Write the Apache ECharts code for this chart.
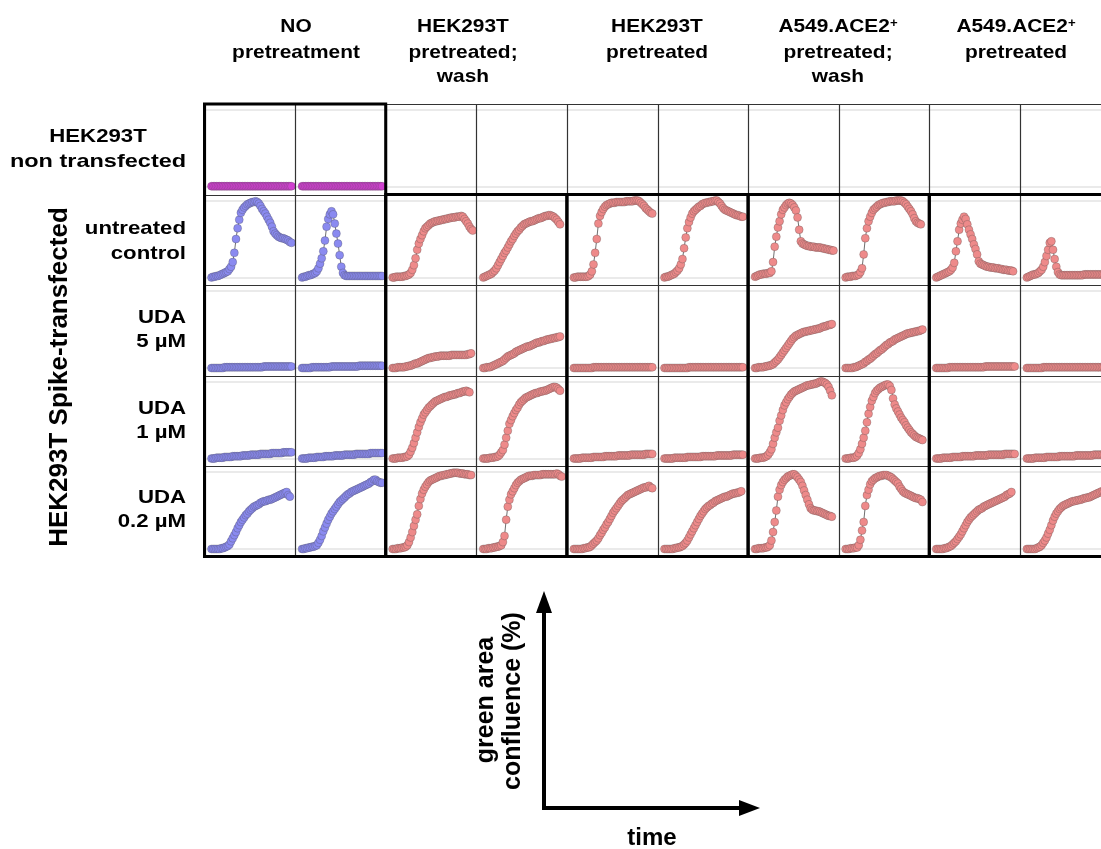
<!DOCTYPE html>
<html><head><meta charset="utf-8">
<script src="https://cdn.jsdelivr.net/npm/echarts@6.0.0/dist/echarts.min.js"></script>
<style>html,body{margin:0;padding:0;background:#fff}#c{width:1101px;height:849px}</style>
</head><body><div id="c"></div>
<script>
// ---- labels ----
const columnHeaders = [
  ['NO', 'pretreatment'],
  ['HEK293T', 'pretreated;', 'wash'],
  ['HEK293T', 'pretreated'],
  ['A549.ACE2{sup|+}', 'pretreated;', 'wash'],
  ['A549.ACE2{sup|+}', 'pretreated']
];
const rowLabels = [
  ['HEK293T', 'non transfected'],
  ['untreated', 'control'],
  ['UDA', '5 µM'],
  ['UDA', '1 µM'],
  ['UDA', '0.2 µM']
];
const sideLabel = 'HEK293T Spike-transfected';
const axisYLabel = ['green area', 'confluence (%)'];
const axisXLabel = 'time';

// ---- series values (green area confluence %, one value per time step) ----
// row 1: HEK293T non transfected
const r1c1 = [1,1,1,1,1,1,1,1,1,1,1,1,1,1,1,1,1,1,1,1,1,1,1,1,1,1,1,1,1,1,1,1,1,1,1,1,1,1,1,1,1,1,1,1,1,1,1,1,1,1];
const r1c2 = [1,1,1,1,1,1,1,1,1,1,1,1,1,1,1,1,1,1,1,1,1,1,1,1,1,1,1,1,1,1,1,1,1,1,1,1,1,1,1,1,1,1,1,1,1,1,1,1,1,1];
// row 2: untreated control
const r2c1 = [0,1,1,2,2,3,4,5,6,7,8,11,14,20,32,50,64,75,84,88,91,93,95,96,97,98,98,99,98,96,93,89,86,83,79,75,71,66,60,57,55,53,52,51,51,50,49,48,46,45];
const r2c2 = [0,1,1,2,3,3,4,5,6,8,12,18,25,34,48,66,76,82,86,82,70,57,44,29,14,6,3,2,2,2,2,2,2,2,2,2,2,2,2,2,2,2,2,2,2,2,2,2,2,2];
const r2c3 = [0,0,1,1,1,1,1,2,2,3,4,6,10,16,25,36,44,50,55,60,64,66,68,70,71,72,73,73,74,74,75,75,76,76,77,77,78,78,78,79,79,79,80,79,76,73,70,66,63,61];
const r2c4 = [0,1,2,3,4,5,7,9,12,16,20,24,28,32,35,39,43,47,50,54,57,60,62,65,67,69,70,71,72,73,73,74,75,76,77,77,78,79,80,80,81,81,80,79,77,75,72,69];
const r2c5 = [0,0,1,1,1,1,1,1,1,2,4,8,17,32,50,70,80,85,89,92,94,95,96,97,97,97,98,98,98,98,98,98,99,99,99,99,99,100,100,100,99,97,95,93,90,88,86,84,83];
const r2c6 = [0,1,1,2,3,4,5,7,9,12,17,24,38,52,64,72,78,83,86,88,90,92,93,95,96,97,97,98,98,99,99,100,100,98,96,93,90,88,87,86,85,84,83,82,81,81,80,79,79];
const r2c7 = [1,2,3,4,4,5,5,5,6,6,8,20,40,53,65,73,82,88,91,94,96,97,96,94,91,87,78,62,47,44,43,42,41,41,40,40,40,39,39,39,39,38,38,37,37,36,36,35,35];
const r2c8 = [0,1,1,1,2,2,2,3,4,7,12,30,51,64,73,79,84,88,90,92,94,95,96,97,97,98,98,99,99,99,99,100,100,100,100,99,97,95,92,89,86,82,77,73,71,70,69];
const r2c9 = [0,1,2,3,4,5,6,7,8,10,13,19,34,47,62,70,75,79,76,69,62,56,50,43,37,30,21,18,17,16,15,14,14,13,13,13,12,12,12,11,11,10,10,10,9,9,9,8];
const r2c10 = [0,1,2,3,4,4,5,6,8,10,14,20,28,36,45,47,36,24,14,7,4,3,3,3,3,3,3,3,3,3,3,3,3,3,3,4,4,4,4,4,4,4,4,4,4,4,4,4,4,4];
// row 3: UDA 5 µM
const r3c1 = [0,0,0,0,0,0,0,0,1,1,1,1,1,1,1,1,1,1,1,1,1,1,1,1,1,1,1,1,1,1,1,1,2,2,2,2,2,2,2,2,2,2,2,2,2,2,2,2,2,2];
const r3c2 = [0,0,0,0,0,0,1,1,1,1,1,1,1,1,1,1,1,1,2,2,2,2,2,2,2,2,2,2,2,2,2,2,2,2,2,3,3,3,3,3,3,3,3,3,3,3,3,3,3,3];
const r3c3 = [0,0,0,1,1,1,1,1,2,2,3,3,4,5,6,6,7,8,9,10,11,12,13,13,14,14,15,15,15,16,16,16,16,16,16,16,17,17,17,17,17,17,17,17,17,17,18,18,19];
const r3c4 = [0,0,1,1,1,2,3,4,5,6,7,8,9,11,13,15,16,17,18,19,21,22,23,24,25,26,27,28,28,29,30,31,32,33,33,34,35,35,36,37,37,38,38,39,39,40,40,41];
const r3c5 = [0,0,0,0,0,0,0,0,0,0,0,0,1,1,1,1,1,1,1,1,1,1,1,1,1,1,1,1,1,1,1,1,1,1,1,1,1,1,1,1,1,1,1,1,1,1,1,1,1];
const r3c6 = [0,0,0,0,0,0,0,0,0,0,0,0,0,0,0,1,1,1,1,1,1,1,1,1,1,1,1,1,1,1,1,1,1,1,1,1,1,1,1,1,1,1,1,1,1,1,1,1,1];
const r3c7 = [0,0,1,1,1,1,2,2,3,3,4,5,7,9,11,14,17,20,23,26,29,32,35,38,40,42,43,44,45,46,47,47,48,48,49,49,50,50,51,51,52,53,54,54,55,56,56,57];
const r3c8 = [0,0,0,0,0,1,1,2,3,4,5,6,8,9,11,12,14,16,18,19,21,23,24,26,28,30,31,33,34,35,37,38,39,40,41,42,43,44,45,45,46,46,47,47,48,48,49,50];
const r3c9 = [0,0,0,0,0,0,0,0,1,1,1,1,1,1,1,1,1,1,1,1,1,1,1,1,1,1,1,1,1,1,2,2,2,2,2,2,2,2,2,2,2,2,2,2,2,2,2,2,2];
const r3c10 = [0,0,0,0,0,0,0,0,0,0,1,1,1,1,1,1,1,1,1,1,1,1,1,1,1,1,1,1,1,1,1,1,1,1,1,1,1,1,1,1,1,1,1,1,1,1,1,1,1,1];
// row 4: UDA 1 µM
const r4c1 = [0,0,0,1,1,1,1,1,2,2,2,2,2,3,3,3,3,3,3,4,4,4,4,4,5,5,5,5,5,5,6,6,6,6,6,6,6,7,7,7,7,7,7,7,8,8,8,8,8,8];
const r4c2 = [0,0,0,0,1,1,1,1,1,2,2,2,2,2,3,3,3,3,3,3,4,4,4,4,4,4,5,5,5,5,5,5,5,6,6,6,6,6,6,6,6,6,7,7,7,7,7,7,7,7];
const r4c3 = [0,0,0,1,1,1,1,2,2,3,5,9,14,20,27,34,41,47,52,57,60,63,66,68,70,72,74,75,76,77,78,79,80,80,81,82,82,83,83,84,85,85,86,87,87,88,87,86];
const r4c4 = [0,0,0,0,1,1,1,2,2,3,5,8,11,18,27,36,45,50,55,59,63,66,70,73,75,77,79,80,81,82,83,84,85,85,86,87,87,88,88,89,90,91,92,93,93,92,90,88];
const r4c5 = [0,0,0,0,0,1,1,1,1,1,1,1,2,2,2,2,2,2,2,3,3,3,3,3,3,3,3,4,4,4,4,4,4,4,4,5,5,5,5,5,5,5,5,5,6,6,6,6,6];
const r4c6 = [0,0,0,0,0,0,1,1,1,1,1,1,1,1,2,2,2,2,2,2,2,2,2,3,3,3,3,3,3,3,3,3,4,4,4,4,4,4,4,4,4,4,5,5,5,5,5,5,5];
const r4c7 = [0,0,0,1,1,1,2,3,5,8,12,19,27,34,40,49,56,63,69,73,77,80,83,85,87,88,89,90,91,92,93,94,95,95,96,96,97,97,98,99,100,100,99,98,96,93,88,82];
const r4c8 = [0,0,0,1,1,1,2,4,7,12,19,27,36,47,58,67,75,80,85,88,90,92,93,94,95,96,96,94,89,78,70,65,61,57,53,50,47,43,40,37,34,32,30,28,27,26,25,24];
const r4c9 = [0,0,0,0,1,1,1,1,1,1,2,2,2,2,2,2,3,3,3,3,3,3,3,3,4,4,4,4,4,4,4,4,5,5,5,5,5,5,5,5,5,5,6,6,6,6,6,6,6];
const r4c10 = [0,0,0,0,0,1,1,1,1,1,1,1,2,2,2,2,2,2,2,2,3,3,3,3,3,3,3,3,3,3,4,4,4,4,4,4,4,4,4,4,4,5,5,5,5,5,5,5,5,5];
// row 5: UDA 0.2 µM
const r5c1 = [0,0,0,0,0,0,1,1,2,3,4,6,10,14,18,22,27,31,35,38,41,44,46,49,51,53,55,56,57,58,60,61,62,62,63,64,64,65,66,67,68,69,70,71,72,73,74,70,68];
const r5c2 = [0,0,1,1,2,2,3,3,4,5,8,12,17,23,28,33,38,42,46,49,52,55,58,61,63,65,67,69,71,72,74,75,76,77,78,79,80,81,82,83,84,85,87,88,90,90,88,87,86,86];
const r5c3 = [0,0,0,1,1,1,2,2,3,5,9,15,22,30,38,45,56,65,72,77,81,84,87,89,90,91,92,93,94,95,95,96,96,97,97,98,98,99,99,99,99,98,98,98,97,97,97,96,96];
const r5c4 = [0,0,0,1,1,1,2,2,3,3,4,5,9,17,38,55,64,71,75,79,83,86,88,90,91,92,93,94,95,95,95,96,96,96,96,96,97,97,97,97,97,97,97,97,97,98,97,95,94];
const r5c5 = [0,0,0,0,0,0,1,1,2,2,3,5,7,9,11,14,18,21,25,28,32,35,39,43,47,50,53,56,59,62,64,66,68,70,71,72,73,74,75,76,77,78,79,80,80,81,82,80,79];
const r5c6 = [0,0,0,0,0,0,1,1,2,2,3,4,6,8,11,15,19,23,27,31,35,39,43,46,49,52,54,56,57,59,60,62,63,64,65,66,67,68,68,69,70,71,72,72,73,73,74,75];
const r5c7 = [0,0,1,1,1,1,2,2,3,5,11,22,35,50,68,77,83,87,90,92,94,95,96,97,97,95,93,90,87,82,76,70,64,58,53,51,50,50,49,49,48,47,46,45,44,43,43,42];
const r5c8 = [0,0,0,1,1,1,2,2,5,12,24,35,56,70,77,84,88,90,92,93,94,95,95,96,96,96,95,94,93,91,89,87,85,81,78,75,73,72,71,70,69,68,67,66,66,65,64,61];
const r5c9 = [0,0,0,0,0,1,1,2,3,4,6,8,10,13,16,19,23,27,31,35,38,41,43,45,47,49,51,52,53,55,56,57,58,59,60,61,62,63,64,65,66,67,68,70,71,72,74];
const r5c10 = [0,0,0,0,0,0,1,2,3,5,8,11,15,20,25,31,37,42,46,49,52,54,56,57,58,59,60,61,62,62,63,63,64,64,65,66,66,67,67,68,69,70,71,72,73,74,75,75,76,76];

const cellData = [
  [r1c1, r1c2, null, null, null, null, null, null, null, null],
  [r2c1, r2c2, r2c3, r2c4, r2c5, r2c6, r2c7, r2c8, r2c9, r2c10],
  [r3c1, r3c2, r3c3, r3c4, r3c5, r3c6, r3c7, r3c8, r3c9, r3c10],
  [r4c1, r4c2, r4c3, r4c4, r4c5, r4c6, r4c7, r4c8, r4c9, r4c10],
  [r5c1, r5c2, r5c3, r5c4, r5c5, r5c6, r5c7, r5c8, r5c9, r5c10]
];

// ---- layout / style ----
const X0 = 204.5, CW = 90.6, Y0 = 104, RH = 90.5;
const NCOL = 10, NROW = 5;
const PAD_L = 7, STEP = 80 / 49;
const COL_MAGENTA = '#d040d0', COL_BLUE = '#8a8af0', COL_SALMON = '#ee8a8a';
const FONT = '"Liberation Sans", Arial, Helvetica, sans-serif';

const grids = [], xAxes = [], yAxes = [], series = [];
for (let r = 0; r < NROW; r++) {
  for (let c = 0; c < NCOL; c++) {
    const idx = r * NCOL + c;
    grids.push({ left: X0 + c * CW, top: Y0 + r * RH + 6, width: CW, height: 77,
      show: false, containLabel: false, outerBoundsMode: 'none' });
    xAxes.push({ gridIndex: idx, type: 'value', min: -PAD_L / STEP, max: (CW - PAD_L) / STEP, show: false });
    yAxes.push({ gridIndex: idx, type: 'value', min: 0, max: 100, interval: 100,
      axisLine: { show: false }, axisTick: { show: false }, axisLabel: { show: false },
      splitLine: { show: true, showMinLine: true, showMaxLine: true, lineStyle: { color: '#e3e3e3', width: 1.5 } } });
    const d = cellData[r][c];
    if (d) {
      const color = r === 0 ? COL_MAGENTA : (c < 2 ? COL_BLUE : COL_SALMON);
      series.push({
        type: 'line', xAxisIndex: idx, yAxisIndex: idx,
        data: d.map((v, i) => [i, v]),
        symbol: 'circle', symbolSize: 8, showSymbol: true, clip: false,
        lineStyle: { color: '#4a4a4a', width: 0.8 },
        itemStyle: { color: color, borderColor: 'rgba(70,70,70,0.4)', borderWidth: 0.7 },
        emphasis: { disabled: true }, silent: true, animation: false, z: 3
      });
    }
  }
}

const g = [];
// thin cell lines
for (let c = 0; c <= NCOL; c++) {
  const x = Math.round(X0 + c * CW) + 0.5;
  g.push({ type: 'line', z: 10, silent: true, shape: { x1: x, y1: Y0, x2: x, y2: Y0 + NROW * RH },
    style: { stroke: '#333', lineWidth: 1.2 } });
}
for (let r = 0; r <= NROW; r++) {
  const y = Math.round(Y0 + r * RH) + 0.5;
  g.push({ type: 'line', z: 10, silent: true, shape: { x1: X0, y1: y, x2: X0 + NCOL * CW, y2: y },
    style: { stroke: '#333', lineWidth: 1.2 } });
}
// thick group borders
const thick = [[0, 0], [1, 1], [2, 1], [3, 1], [4, 1]];
thick.forEach(([gi, r0]) => {
  g.push({ type: 'rect', z: 11, silent: true,
    shape: { x: X0 + 2 * gi * CW, y: Y0 + r0 * RH, width: 2 * CW, height: (NROW - r0) * RH },
    style: { fill: 'none', stroke: '#000', lineWidth: 3 } });
});

function txt(text, x, y, size, align, opts) {
  return Object.assign({ type: 'text', x: x, y: y, z: 20, silent: true,
    style: { text: text, fill: '#000', font: 'bold ' + size + 'px ' + FONT,
      fontSize: size, fontWeight: 'bold', fontFamily: FONT,
      align: align, textAlign: align, verticalAlign: 'middle', textVerticalAlign: 'middle',
      rich: { sup: { fontSize: 12, fontWeight: 'bold', fontFamily: FONT, verticalAlign: 'top', fill: '#000' } } } }, opts || {});
}
// column headers
const headerX = [296, 463, 657, 838, 1016];
const headerY = [27, 52.5, 77];
columnHeaders.forEach((lines, i) => {
  lines.forEach((t, j) => g.push(txt(t, headerX[i], headerY[j], 19, 'center', { scaleX: 1.1 })));
});
// row labels
const rowLabelY = [[137, 162], [229, 254], [318, 342], [409, 433], [498, 522]];
rowLabels.forEach((lines, i) => {
  lines.forEach((t, j) => {
    if (i === 0) g.push(txt(t, 98, rowLabelY[i][j], 18.5, 'center', { scaleX: j === 1 ? 1.27 : 1.2 }));
    else g.push(txt(t, 186, rowLabelY[i][j], 18.5, 'right', { scaleX: 1.2 }));
  });
});
g.push(txt(sideLabel, 60, 377, 26, 'center', { rotation: Math.PI / 2 }));

// schematic axes
g.push({ type: 'line', z: 10, silent: true, shape: { x1: 544, y1: 810, x2: 544, y2: 610 }, style: { stroke: '#000', lineWidth: 4 } });
g.push({ type: 'polygon', z: 10, silent: true, shape: { points: [[544, 591], [536, 613], [552, 613]] }, style: { fill: '#000' } });
g.push({ type: 'line', z: 10, silent: true, shape: { x1: 542, y1: 808, x2: 742, y2: 808 }, style: { stroke: '#000', lineWidth: 4 } });
g.push({ type: 'polygon', z: 10, silent: true, shape: { points: [[760, 808], [739, 800], [739, 816]] }, style: { fill: '#000' } });
g.push(txt(axisXLabel, 652, 838, 24, 'center'));
g.push(txt(axisYLabel[0], 486, 700, 25, 'center', { rotation: Math.PI / 2 }));
g.push(txt(axisYLabel[1], 513, 701, 25, 'center', { rotation: Math.PI / 2 }));

const chart = echarts.init(document.getElementById('c'), null, { renderer: 'canvas' });
chart.setOption({
  backgroundColor: '#fff',
  animation: false,
  grid: grids, xAxis: xAxes, yAxis: yAxes, series: series,
  graphic: { elements: g }
});
</script>
</body></html>
